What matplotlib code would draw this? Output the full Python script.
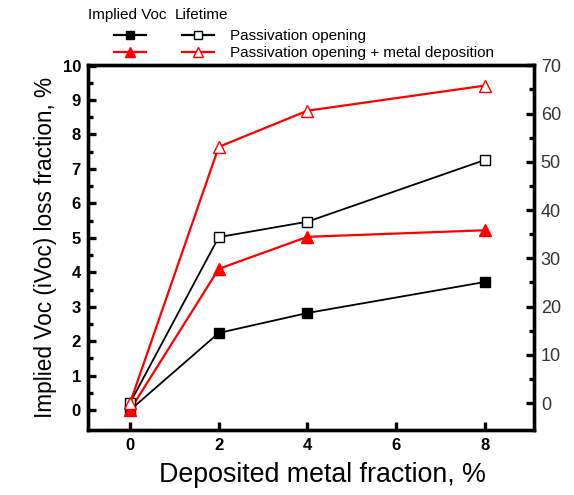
import numpy as np
import matplotlib
matplotlib.use('Agg')
import matplotlib.pyplot as plt
from matplotlib.lines import Line2D

# deposited metal fraction, %
metal_frac = [0, 2, 4, 8]

# implied Voc loss fraction, % (left axis, filled markers)
ivoc_opening = [0.0, 2.24, 2.82, 3.72]
ivoc_opening_metal = [0.0, 4.1, 5.03, 5.22]

# lifetime (right axis, open markers)
life_opening = [0.0, 34.4, 37.6, 50.4]
life_opening_metal = [0.0, 53.1, 60.6, 65.8]

lbl_opening = 'Passivation opening'
lbl_opening_metal = 'Passivation opening + metal deposition'

plt.rcParams['font.family'] = ['Liberation Sans', 'DejaVu Sans']

fig = plt.figure(figsize=(5.74, 4.95), dpi=100)
ax = fig.add_axes([0.153, 0.131, 0.777, 0.738])
ax2 = ax.twinx()

# left axis: implied Voc
ax.plot(metal_frac, ivoc_opening, color='black', lw=1.3, marker='s', ms=7, zorder=3)
ax.plot(metal_frac, ivoc_opening_metal, color='red', lw=1.6, marker='^', ms=8, zorder=3)

# right axis: lifetime
ax2.plot(metal_frac, life_opening, color='black', lw=1.3, marker='s', ms=7, mfc='white', mec='black', mew=1.0)
ax2.plot(metal_frac, life_opening_metal, color='red', lw=1.6, marker='^', ms=8, mfc='white', mec='red', mew=1.0)

ax.set_xlim(-0.95, 9.1)
ax.set_ylim(-0.58, 10.02)
ax2.set_ylim(-5.6, 70.1)

ax.set_xticks([0, 2, 4, 6, 8])
ax.set_yticks(np.arange(0, 11, 1))
ax.set_yticks(np.arange(0.5, 10, 1), minor=True)
ax2.set_yticks(np.arange(0, 71, 10))
ax2.set_yticks(np.arange(5, 70, 10), minor=True)

for a in (ax, ax2):
    for s in a.spines.values():
        s.set_linewidth(2.4)

ax.tick_params(axis='x', direction='in', length=6, width=2.4, labelsize=12, pad=6)
ax.tick_params(axis='y', which='major', direction='in', length=6, width=2.4, labelsize=12, pad=5)
ax.tick_params(axis='y', which='minor', direction='in', length=3.5, width=2.4)
ax2.tick_params(axis='y', which='major', direction='in', length=6, width=2.4, labelsize=13, pad=5)
ax2.tick_params(axis='y', which='minor', direction='in', length=3.5, width=2.4)
for t in ax.get_xticklabels() + ax.get_yticklabels():
    t.set_fontweight('bold')
for t in ax2.get_yticklabels():
    t.set_color('#333333')

ax.set_xlabel('Deposited metal fraction, %', fontsize=19.3)
ax.xaxis.set_label_coords(0.527, -0.088)
ax.set_ylabel('Implied Voc (iVoc) loss fraction, %', fontsize=16.3, labelpad=4)

# legend: filled = implied Voc, open = lifetime
h_fill_b = Line2D([], [], color='black', lw=1.6, marker='s', ms=6)
h_fill_r = Line2D([], [], color='red', lw=1.6, marker='^', ms=7)
h_open_b = Line2D([], [], color='black', lw=1.6, marker='s', ms=6, mfc='white', mew=1.0)
h_open_r = Line2D([], [], color='red', lw=1.6, marker='^', ms=7, mfc='white', mew=1.0)
leg = fig.legend([h_fill_b, h_fill_r, h_open_b, h_open_r],
                 ['', '', lbl_opening, lbl_opening_metal],
                 ncol=2, loc='upper left', bbox_to_anchor=(0.174, 0.969),
                 frameon=False, fontsize=11, handlelength=2.1,
                 handletextpad=1.05, columnspacing=1.3, labelspacing=0.2)
fig.text(0.153, 0.970, 'Implied Voc', fontsize=11, va='center', ha='left')
fig.text(0.305, 0.970, 'Lifetime', fontsize=11, va='center', ha='left')

fig.savefig('out.png', dpi=100)
